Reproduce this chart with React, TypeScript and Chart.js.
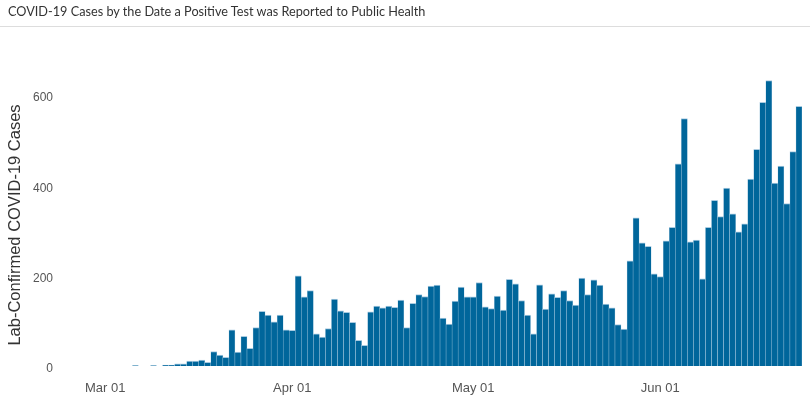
import React, { useEffect, useRef } from 'react';
import { Chart, registerables } from 'chart.js';

Chart.register(...registerables);

// Daily lab-confirmed cases, by reported date (2020-02-23 .. 2020-06-24)
const startDate = '2020-02-23';
const febCases = [0, 0, 0, 0, 0, 0, 0];
const marCases = [0, 0, 0, 0, 0, 1, 0, 0, 1, 0, 2, 2, 5, 5, 11, 11, 13, 8, 32, 24, 19, 80, 31, 66, 39, 85, 121, 113, 98, 113, 80];
const aprCases = [79, 200, 153, 167, 71, 64, 83, 148, 122, 119, 97, 57, 46, 120, 133, 129, 133, 130, 146, 85, 139, 158, 154, 177, 179, 106, 93, 144, 175, 153];
const mayCases = [153, 185, 131, 127, 155, 124, 192, 182, 145, 113, 71, 180, 126, 160, 152, 167, 145, 135, 195, 158, 191, 179, 137, 129, 92, 82, 233, 328, 273, 265, 204];
const junCases = [198, 277, 307, 448, 548, 275, 279, 193, 307, 367, 331, 394, 337, 297, 315, 414, 480, 584, 632, 405, 443, 360, 475, 575];

const xTickLabels = ['Mar 01', 'Apr 01', 'May 01', 'Jun 01'];
const yTickValues = [0, 200, 400, 600];
const yTitle = 'Lab-Confirmed COVID-19 Cases';
const MONTHS = ['Jan', 'Feb', 'Mar', 'Apr', 'May', 'Jun', 'Jul', 'Aug', 'Sep', 'Oct', 'Nov', 'Dec'];

function buildDates(start: string, n: number): string[] {
  const d0 = new Date(start + 'T00:00:00Z');
  const out: string[] = [];
  for (let i = 0; i < n; i++) {
    const d = new Date(d0.getTime() + i * 86400000);
    const day = String(d.getUTCDate()).padStart(2, '0');
    out.push(MONTHS[d.getUTCMonth()] + ' ' + day);
  }
  return out;
}

const axisFont = 'Liberation Sans, Arial, sans-serif';

const yTitlePlugin = {
  id: 'yTitlePlugin',
  afterDraw(chart: any) {
    const ctx = chart.ctx;
    ctx.save();
    ctx.translate(15, 225);
    ctx.rotate(-Math.PI / 2);
    ctx.font = '16.5px ' + axisFont;
    ctx.fillStyle = '#333';
    ctx.textAlign = 'center';
    ctx.textBaseline = 'middle';
    ctx.fillText(yTitle, 0, 0);
    ctx.restore();
  },
};

export default function App() {
  const ref = useRef<HTMLCanvasElement>(null);

  useEffect(() => {
    document.body.style.margin = '0';
    const values = [...febCases, ...marCases, ...aprCases, ...mayCases, ...junCases];
    const labels = buildDates(startDate, values.length);
    const chart = new Chart(ref.current as HTMLCanvasElement, {
      type: 'bar',
      data: {
        labels,
        datasets: [
          {
            data: values,
            backgroundColor: '#00669b',
            borderColor: '#a9cbe1',
            borderWidth: { top: 1, left: 0.5, right: 0.5, bottom: 0 } as any,
            barPercentage: 1,
            categoryPercentage: 1,
          },
        ],
      },
      plugins: [yTitlePlugin],
      options: {
        animation: false,
        responsive: false,
        maintainAspectRatio: false,
        layout: { padding: { top: 50, right: 8, bottom: 0, left: 0 } },
        plugins: { legend: { display: false }, tooltip: { enabled: false } },
        scales: {
          x: {
            grid: { display: false, drawTicks: false },
            border: { display: false },
            ticks: {
              autoSkip: false,
              maxRotation: 0,
              minRotation: 0,
              padding: 15,
              color: '#555',
              font: { family: axisFont, size: 13 },
              callback: (_v: any, i: number) => (xTickLabels.includes(labels[i]) ? labels[i] : null),
            },
            afterFit: (s: any) => {
              s.height = 37;
            },
          },
          y: {
            min: 0,
            max: 700,
            grid: { display: false, drawTicks: false },
            border: { display: false },
            afterBuildTicks: (s: any) => {
              s.ticks = yTickValues.map((v) => ({ value: v }));
            },
            ticks: {
              padding: 7,
              labelOffset: 3,
              color: '#555',
              font: { family: axisFont, size: 12 },
            },
            afterFit: (s: any) => {
              s.width = 60;
            },
          },
        },
      },
    });
    return () => chart.destroy();
  }, []);

  return (
    <div style={{ position: 'relative', width: 810, height: 403 }}>
      <canvas ref={ref} width={810} height={403} style={{ position: 'absolute', left: 0, top: 0, display: 'block' }} />
      <div
        style={{
          position: 'absolute',
          left: 0,
          top: 0,
          width: 802,
          height: 26,
          borderBottom: '1px solid #dddddd',
          fontFamily: 'Lato, sans-serif',
          fontSize: 12.7,
          lineHeight: '23px',
          color: '#333',
          paddingLeft: 8,
          boxSizing: 'content-box',
          whiteSpace: 'nowrap',
        }}
      >
        COVID-19 Cases by the Date a Positive Test was Reported to Public Health
      </div>
    </div>
  );
}
